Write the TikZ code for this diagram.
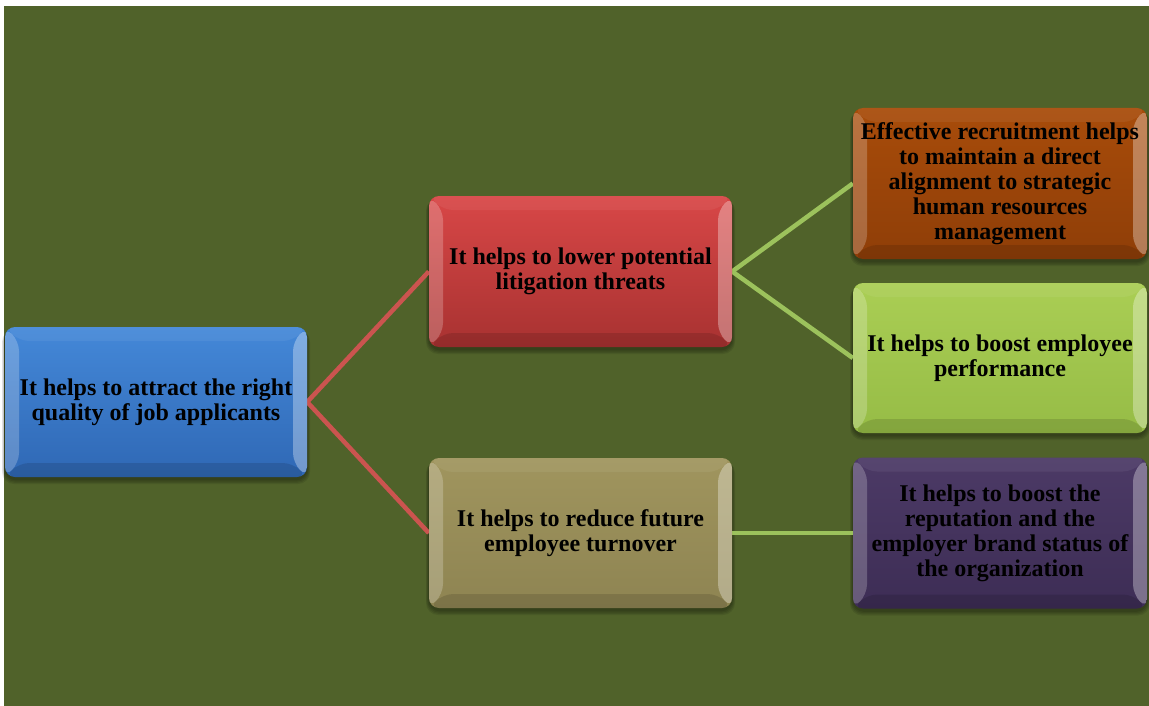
\documentclass[tikz,border=0pt]{standalone}
\usepackage{fontspec}
\setmainfont{Liberation Serif}
\usetikzlibrary{calc}
\definecolor{bgOlive}{HTML}{50622A}
\definecolor{blueT}{HTML}{4488D8}
\definecolor{blueB}{HTML}{2F68B5}
\definecolor{redT}{HTML}{D84747}
\definecolor{redB}{HTML}{A83231}
\definecolor{orangeT}{HTML}{A84C0A}
\definecolor{orangeB}{HTML}{8F3E08}
\definecolor{greenT}{HTML}{AACE54}
\definecolor{greenB}{HTML}{96BC46}
\definecolor{tanT}{HTML}{A0955E}
\definecolor{tanB}{HTML}{8E8452}
\definecolor{purpleT}{HTML}{4C3A66}
\definecolor{purpleB}{HTML}{3D2D55}
\definecolor{lineRed}{HTML}{CB544F}
\definecolor{lineGreen}{HTML}{9CC25C}
\pgfdeclarelayer{background}
\pgfsetlayers{background,main}
\newcommand\myshadow[1]{%
  \foreach \g in {1,2,3,4}{%
    \fill[black, opacity=0.09, rounded corners=12pt]
      ($(#1.north west)+(-\g*0.7pt,-1pt-\g*0.5pt)$) rectangle ($(#1.south east)+(\g*0.7pt,-2pt-\g*1.2pt)$);
  }}
\tikzset{
  box/.style={rectangle, rounded corners=10pt, inner sep=0pt, align=center,
    font=\bfseries\fontsize{24}{25}\selectfont, text=black,
    path picture={
      \fill[white, opacity=0.22] (path picture bounding box.north west) -- ($(path picture bounding box.north west)+(14pt,-14pt)$) -- ($(path picture bounding box.south west)+(14pt,14pt)$) -- (path picture bounding box.south west) -- cycle;
      \fill[white, opacity=0.32] (path picture bounding box.north east) -- ($(path picture bounding box.north east)+(-14pt,-14pt)$) -- ($(path picture bounding box.south east)+(-14pt,14pt)$) -- (path picture bounding box.south east) -- cycle;
      \fill[white, opacity=0.06] (path picture bounding box.north west) -- ($(path picture bounding box.north west)+(14pt,-14pt)$) -- ($(path picture bounding box.north east)+(-14pt,-14pt)$) -- (path picture bounding box.north east) -- cycle;
      \fill[black, opacity=0.12] (path picture bounding box.south west) -- ($(path picture bounding box.south west)+(14pt,14pt)$) -- ($(path picture bounding box.south east)+(-14pt,14pt)$) -- (path picture bounding box.south east) -- cycle;
    }},
  bluebox/.style={box, top color=blueT, bottom color=blueB},
  redbox/.style={box, top color=redT, bottom color=redB},
  orangebox/.style={box, top color=orangeT, bottom color=orangeB},
  greenbox/.style={box, top color=greenT, bottom color=greenB},
  tanbox/.style={box, top color=tanT, bottom color=tanB},
  purplebox/.style={box, top color=purpleT, bottom color=purpleB},
  redlink/.style={draw=lineRed, line width=4.5pt},
  greenlink/.style={draw=lineGreen, line width=4.5pt},
}
\begin{document}
\begin{tikzpicture}[x=1pt,y=-1pt]
\useasboundingbox (0,0) rectangle (1149,706);
\begin{pgfonlayer}{background}
\fill[white] (0,0) rectangle (1149,706);
\fill[bgOlive] (4,6) rectangle (1149,706);
\end{pgfonlayer}

\node[bluebox, minimum width=302pt, minimum height=150pt] (attract) at (156,402)
  {It helps to attract the right\\quality of job applicants};
\node[redbox, minimum width=303pt, minimum height=151pt] (lower) at (580.5,271.5)
  {It helps to lower potential\\litigation threats};
\node[tanbox, minimum width=303pt, minimum height=150pt] (reduce) at (580.5,533)
  {It helps to reduce future\\employee turnover};
\node[orangebox, minimum width=294pt, minimum height=151pt] (effective) at (1000,183.5)
  {Effective recruitment helps\\to maintain a direct\\alignment to strategic\\human resources\\management};
\node[greenbox, minimum width=294pt, minimum height=150pt] (boost) at (1000,358)
  {It helps to boost employee\\performance};
\node[purplebox, minimum width=294pt, minimum height=151pt] (reputation) at (1000,533)
  {It helps to boost the\\reputation and the\\employer brand status of\\the organization};

\begin{pgfonlayer}{background}
\myshadow{attract}
\myshadow{lower}
\myshadow{reduce}
\myshadow{effective}
\myshadow{boost}
\myshadow{reputation}
\draw[redlink] (attract.east) -- (lower.west);
\draw[redlink] (attract.east) -- (reduce.west);
\draw[greenlink] (lower.east) -- (effective.west);
\draw[greenlink] (lower.east) -- (boost.west);
\draw[greenlink] (reduce.east) -- (reputation.west);
\end{pgfonlayer}
\end{tikzpicture}
\end{document}
